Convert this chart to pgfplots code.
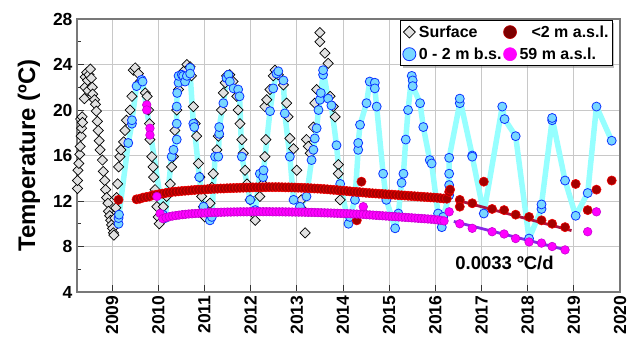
\documentclass[border=0pt]{standalone}
\usepackage{fontspec}
\setmainfont{Liberation Sans}
\usepackage{pgfplots}
\pgfplotsset{compat=1.18}
\usetikzlibrary{shadows}
\definecolor{aqualine}{RGB}{150,255,255}
\definecolor{bluefill}{RGB}{120,215,255}
\definecolor{blueedge}{RGB}{10,50,255}
\definecolor{redfill}{RGB}{165,0,0}
\definecolor{rededge}{RGB}{240,0,0}
\definecolor{magfill}{RGB}{255,0,255}
\definecolor{magedge}{RGB}{200,0,210}
\definecolor{redreg}{RGB}{170,20,65}
\definecolor{purreg}{RGB}{135,40,230}
\definecolor{diafill}{RGB}{225,225,225}
\definecolor{gridc}{RGB}{200,200,200}
\definecolor{framec}{RGB}{120,120,120}

\pgfplotstableread{
t T
2008.25 13.1
2008.25 13.8
2008.26 14.7
2008.28 15.3
2008.30 16.1
2008.31 16.8
2008.33 17.7
2008.34 18.4
2008.32 19.2
2008.35 19.4
2008.36 18.9
2008.40 21.0
2008.41 22.0
2008.42 22.9
2008.45 23.3
2008.47 22.6
2008.48 21.7
2008.50 23.1
2008.53 23.6
2008.55 22.8
2008.57 22.0
2008.58 21.4
2008.62 20.9
2008.64 20.5
2008.66 19.9
2008.68 19.0
2008.70 18.2
2008.72 17.3
2008.74 16.5
2008.79 15.6
2008.81 14.6
2008.84 13.8
2008.86 13.0
2008.88 12.3
2008.91 11.8
2008.92 11.1
2008.95 10.7
2008.97 10.3
2008.99 9.9
2009.01 9.6
2009.03 9.2
2009.04 9.0
2009.06 10.5
2009.08 11.4
2009.10 12.3
2009.12 13.5
2009.14 15.0
2009.17 15.9
2009.19 16.5
2009.25 17.2
2009.28 18.2
2009.31 19.1
2009.39 20.0
2009.43 21.2
2009.46 23.5
2009.50 23.7
2009.57 23.2
2009.61 22.5
2009.72 21.5
2009.76 21.2
2009.79 20.0
2009.81 18.8
2009.82 17.4
2009.86 15.9
2009.89 15.0
2009.90 14.1
2009.93 13.0
2009.97 11.5
2010.00 10.6
2010.02 10.0
2010.11 11.5
2010.18 12.4
2010.26 13.5
2010.29 15.0
2010.33 15.9
2010.36 18.2
2010.40 20.0
2010.44 21.8
2010.47 23.0
2010.55 23.4
2010.62 24.0
2010.69 23.8
2010.72 23.0
2010.76 20.3
2010.80 18.8
2010.83 17.7
2010.87 15.3
2010.90 14.1
2010.94 12.4
2010.98 11.5
2011.01 10.6
2011.12 11.8
2011.16 13.2
2011.19 14.4
2011.27 16.5
2011.30 17.7
2011.37 20.0
2011.41 21.5
2011.45 22.4
2011.48 23.0
2011.55 23.1
2011.62 22.5
2011.70 21.2
2011.73 20.0
2011.77 18.8
2011.81 17.4
2011.84 16.2
2011.88 14.7
2011.92 13.5
2011.99 12.1
2012.06 10.9
2012.10 10.3
2012.20 12.4
2012.27 13.5
2012.31 15.9
2012.33 17.4
2012.31 20.3
2012.35 20.9
2012.42 21.8
2012.49 23.0
2012.53 23.5
2012.60 23.1
2012.71 22.2
2012.78 20.6
2012.81 19.4
2012.85 17.5
2012.93 16.6
2013.00 14.7
2013.10 12.1
2013.14 11.2
2013.18 9.2
2013.21 17.4
2013.25 16.8
2013.29 16.2
2013.36 18.5
2013.39 20.6
2013.43 21.8
2013.50 26.8
2013.50 26.0
2013.61 25.0
2013.68 24.1
2013.72 21.2
2013.79 20.3
2013.83 19.4
2013.90 15.2
2013.90 14.4
2013.94 12.1
}\surface

\pgfplotstableread{
t T
2009.14 10.0
2009.14 10.5
2009.15 10.8
2009.35 17.1
2009.43 18.8
2009.43 19.1
2009.53 22.1
2009.64 22.65
2009.66 22.5
2010.10 10.8
2010.15 10.5
2010.29 15.9
2010.33 16.5
2010.40 17.4
2010.40 18.8
2010.40 20.3
2010.41 21.5
2010.44 22.4
2010.44 23.0
2010.51 23.1
2010.54 23.0
2010.58 22.5
2010.62 23.0
2010.69 23.7
2010.69 23.2
2010.76 18.8
2010.78 18.5
2010.89 14.1
2010.98 11.5
2011.12 10.3
2011.16 10.6
2011.23 15.9
2011.30 15.9
2011.32 17.9
2011.32 18.5
2011.41 20.6
2011.48 22.8
2011.52 23.1
2011.55 22.5
2011.63 21.9
2011.73 21.8
2011.76 21.2
2011.81 15.9
2011.99 12.1
2012.10 11.2
2012.20 14.4
2012.27 14.1
2012.28 14.7
2012.42 19.9
2012.49 21.9
2012.56 23.2
2012.60 23.4
2012.71 22.6
2012.74 19.7
2012.85 15.9
2012.93 12.1
2013.07 11.5
2013.21 12.4
2013.32 15.6
2013.36 16.5
2013.39 17.5
2013.43 18.4
2013.47 20.0
2013.50 20.9
2013.52 21.5
2013.57 23.1
2013.57 23.5
2013.68 21.0
2013.75 20.4
2013.86 16.9
2013.94 13.5
2014.12 10.0
2014.15 10.6
2014.26 12.1
2014.33 16.5
2014.33 17.1
2014.37 18.7
2014.51 20.6
2014.58 22.5
2014.69 22.4
2014.69 21.9
2014.73 20.3
2014.87 14.4
2014.94 12.1
2015.13 9.6
2015.20 10.9
2015.27 13.6
2015.31 14.4
2015.36 17.4
2015.41 20.0
2015.49 23.0
2015.51 22.6
2015.51 22.1
2015.67 20.6
2015.74 18.5
2015.88 15.6
2015.92 15.3
2016.06 10.9
2016.14 9.7
2016.17 10.6
2016.30 12.5
2016.30 13.4
2016.30 14.4
2016.30 15.8
2016.53 20.6
2016.53 21.0
2016.80 16.0
2016.80 15.9
2017.05 10.9
2017.45 20.3
2017.50 19.2
2017.74 17.7
2018.03 8.7
2018.30 11.3
2018.30 11.7
2018.53 19.1
2018.53 19.3
2018.81 13.8
2019.04 10.7
2019.30 12.7
2019.49 20.3
2019.82 17.3
}\shallow

\pgfplotstableread{
t T
2009.14 12.1
2009.53 12.15
2009.60 12.2
2009.67 12.3
2009.74 12.35
2009.81 12.4
2009.88 12.5
2009.95 12.55
2010.02 12.6
2010.09 12.65
2010.16 12.7
2010.23 12.75
2010.30 12.8
2010.37 12.82
2010.44 12.85
2010.51 12.88
2010.58 12.9
2010.65 12.92
2010.72 12.95
2010.79 12.97
2010.86 13.0
2010.93 13.0
2011.00 13.02
2011.07 13.04
2011.14 13.05
2011.21 13.07
2011.28 13.08
2011.35 13.1
2011.42 13.1
2011.49 13.12
2011.56 13.13
2011.63 13.14
2011.70 13.15
2011.77 13.16
2011.84 13.17
2011.91 13.18
2011.98 13.18
2012.05 13.2
2012.12 13.2
2012.19 13.2
2012.26 13.21
2012.33 13.21
2012.40 13.22
2012.47 13.22
2012.54 13.22
2012.61 13.22
2012.68 13.21
2012.75 13.2
2012.82 13.2
2012.89 13.19
2012.96 13.18
2013.03 13.17
2013.10 13.16
2013.17 13.15
2013.24 13.14
2013.31 13.12
2013.38 13.1
2013.45 13.09
2013.52 13.07
2013.59 13.05
2013.66 13.03
2013.73 13.0
2013.80 12.98
2013.87 12.96
2013.94 12.93
2014.01 12.9
2014.08 12.88
2014.15 12.85
2014.22 12.82
2014.29 12.8
2014.30 10.3
2014.36 12.78
2014.40 13.7
2014.43 12.75
2014.50 12.72
2014.57 12.7
2014.64 12.68
2014.71 12.66
2014.78 12.64
2014.85 12.62
2014.92 12.6
2014.99 12.58
2015.06 12.56
2015.13 12.54
2015.20 12.52
2015.27 12.5
2015.34 12.48
2015.41 12.46
2015.48 12.44
2015.55 12.42
2015.62 12.4
2015.69 12.38
2015.76 12.36
2015.83 12.34
2015.90 12.32
2015.97 12.3
2016.04 12.28
2016.11 12.25
2016.18 12.22
2016.25 12.2
2016.30 12.8
2016.32 13.0
2016.53 12.1
2016.53 11.5
2016.80 11.8
2017.05 13.7
2017.23 11.3
2017.49 11.2
2017.74 10.8
2018.03 10.6
2018.30 10.3
2018.53 10.0
2018.81 9.7
2019.04 13.5
2019.30 11.2
2019.49 13.0
2019.82 13.8
}\lowsite

\pgfplotstableread{
t T
2009.75 20.45
2009.75 20.0
2009.82 18.4
2009.82 17.8
2009.97 12.4
2010.04 10.9
2010.10 10.45
2010.17 10.55
2010.24 10.62
2010.31 10.68
2010.38 10.72
2010.45 10.76
2010.52 10.8
2010.59 10.83
2010.66 10.86
2010.73 10.88
2010.80 10.9
2010.87 10.92
2010.94 10.94
2011.01 10.95
2011.08 10.97
2011.15 10.98
2011.22 11.0
2011.29 11.0
2011.36 11.01
2011.43 11.02
2011.50 11.03
2011.57 11.03
2011.64 11.04
2011.71 11.04
2011.78 11.05
2011.85 11.05
2011.92 11.05
2011.99 11.06
2012.06 11.06
2012.13 11.06
2012.20 11.06
2012.27 11.06
2012.34 11.06
2012.41 11.06
2012.48 11.05
2012.55 11.05
2012.62 11.05
2012.69 11.05
2012.76 11.04
2012.83 11.04
2012.90 11.03
2012.97 11.03
2013.04 11.02
2013.11 11.02
2013.18 11.01
2013.25 11.0
2013.32 11.0
2013.39 10.99
2013.46 10.98
2013.53 10.97
2013.60 10.96
2013.67 10.95
2013.74 10.94
2013.81 10.93
2013.88 10.92
2013.95 10.91
2014.02 10.9
2014.09 10.89
2014.16 10.88
2014.23 10.86
2014.30 10.85
2014.37 10.84
2014.44 11.5
2014.44 10.82
2014.51 10.8
2014.58 10.78
2014.65 10.76
2014.72 10.74
2014.79 10.72
2014.86 10.7
2014.93 10.68
2015.00 10.66
2015.07 10.64
2015.14 10.62
2015.21 10.6
2015.28 10.58
2015.35 10.56
2015.42 10.54
2015.49 10.52
2015.56 10.5
2015.63 10.48
2015.70 10.46
2015.77 10.44
2015.84 10.42
2015.91 10.4
2015.98 10.37
2016.05 10.34
2016.12 10.3
2016.19 10.25
2016.30 11.05
2016.53 10.0
2016.80 9.6
2017.23 9.3
2017.49 9.1
2017.74 8.7
2018.03 8.4
2018.30 8.3
2018.53 8.0
2018.81 7.7
2019.30 9.3
2019.49 11.05
}\highsite

\begin{document}
\begin{tikzpicture}
\begin{axis}[
  name=ax,
  scale only axis, width=543pt, height=273pt,
  xmin=2008.24, xmax=2020, ymin=4, ymax=28,
  xtick={2009,2010,...,2020}, minor x tick num=4,
  ytick={4,8,...,28}, minor y tick num=1,
  /pgf/number format/1000 sep={},
  /pgf/number format/assume math mode=true,
  tick label style={font=\bfseries\fontsize{17.5}{18}\selectfont},
  xticklabel style={rotate=90, anchor=east, xshift=0pt},
  yticklabel style={xshift=-1pt},
  grid=major, major grid style={gridc, line width=0.9pt},
  axis line style={framec, line width=1.4pt},
  tick style={black!80, line width=0.9pt},
  major tick length=7pt, minor tick length=4pt,
  xtick pos=bottom, ytick pos=left, tick align=inside,
  ylabel={Temperature (ºC)},
  ylabel style={font=\bfseries\fontsize{24}{25}\selectfont, yshift=6pt},
  legend columns=2,
  legend cell align=left,
  legend style={at={(0.987,0.996)}, anchor=north east, draw=black, line width=0.9pt,
    fill=white, font=\bfseries\fontsize{16}{17}\selectfont,
    drop shadow={shadow xshift=2pt, shadow yshift=-2pt, fill=black!50},
    inner xsep=2pt, inner ysep=3pt, row sep=5pt,
    /tikz/every odd column/.append style={column sep=1pt},
    /tikz/every even column/.append style={column sep=0pt}},
]
\addlegendimage{only marks, mark=square*, mark options={rotate=45, fill=diafill, draw=black, line width=0.8pt}, mark size=4.2pt}
\addlegendentry{Surface}
\addlegendimage{only marks, mark=*, mark options={fill=redfill!75!black, draw=rededge!80!black, line width=0.6pt}, mark size=6.5pt}
\addlegendentry{\hspace{12pt}<2 m a.s.l.}
\addlegendimage{only marks, mark=*, mark options={fill=bluefill, draw=blueedge, line width=0.8pt}, mark size=6.5pt}
\addlegendentry{0 - 2 m b.s.}
\addlegendimage{only marks, mark=*, mark options={fill=magfill, draw=magfill, line width=0.6pt}, mark size=6.5pt}
\addlegendentry{59 m a.s.l.}

\addplot[forget plot, only marks, mark=square*, mark size=3.6pt,
  mark options={rotate=45, fill=diafill, draw=black, line width=0.7pt}] table[x=t, y=T] {\surface};

\addplot[forget plot, color=aqualine, line width=5.5pt, line join=round, mark=*, mark size=4.5pt,
  mark options={fill=bluefill, draw=blueedge, line width=0.8pt}] table[x=t, y=T] {\shallow};

\addplot[forget plot, only marks, mark=*, mark size=4.6pt,
  mark options={fill=redfill, draw=rededge, line width=0.6pt}] table[x=t, y=T] {\lowsite};

\addplot[forget plot, only marks, mark=*, mark size=4.3pt,
  mark options={fill=magfill, draw=magedge, line width=0.6pt}] table[x=t, y=T] {\highsite};

\addplot[forget plot, redreg, line width=2.8pt] coordinates {(2016.44,12.1) (2018.95,9.4)};
\addplot[forget plot, purreg, line width=2.8pt] coordinates {(2016.40,10.2) (2018.86,7.67)};

\node[font=\bfseries\fontsize{18.5}{19}\selectfont] at (axis cs:2017.5,6.55) {0.0033 ºC/d};
\end{axis}
\pgfresetboundingbox
\path[use as bounding box] ([shift={(-77pt,-49pt)}]ax.south west) rectangle ([shift={(11pt,19pt)}]ax.north east);
\end{tikzpicture}
\end{document}
